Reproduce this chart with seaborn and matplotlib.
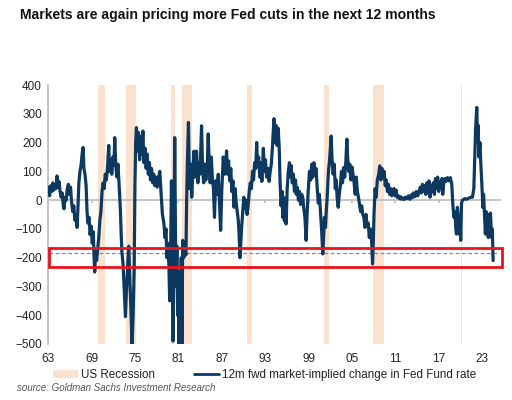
import numpy as np
import pandas as pd
import matplotlib
matplotlib.use("Agg")
import matplotlib.pyplot as plt
import seaborn as sns
from matplotlib.patches import Patch, Rectangle
from matplotlib.lines import Line2D

# 12m fwd market-implied change in Fed Funds rate (bp)
t_1963_1978 = [1963.0, 1963.1, 1963.2, 1963.35, 1963.5, 1963.65, 1963.8, 1963.95, 1964.1, 1964.23,
               1964.35, 1964.5, 1964.65, 1964.8, 1964.95, 1965.1, 1965.2, 1965.35, 1965.5, 1965.65,
               1965.8, 1965.95, 1966.1, 1966.25, 1966.4, 1966.55, 1966.7, 1966.85, 1967.0, 1967.1,
               1967.25, 1967.4, 1967.55, 1967.7, 1967.83, 1967.95, 1968.1, 1968.25, 1968.38, 1968.5,
               1968.65, 1968.8, 1968.95, 1969.1, 1969.25, 1969.35, 1969.44, 1969.55, 1969.7, 1969.85,
               1970.0, 1970.15, 1970.3, 1970.45, 1970.6, 1970.75, 1970.9, 1971.05, 1971.2, 1971.38,
               1971.5, 1971.65, 1971.8, 1971.95, 1972.1, 1972.21, 1972.35, 1972.5, 1972.65, 1972.8,
               1973.0, 1973.1, 1973.2, 1973.35, 1973.5, 1973.6, 1973.69, 1973.8, 1973.95, 1974.05,
               1974.15, 1974.3, 1974.45, 1974.6, 1974.75, 1974.9, 1975.0, 1975.1, 1975.21, 1975.35,
               1975.5, 1975.65, 1975.8, 1975.95, 1976.1, 1976.23, 1976.4, 1976.55, 1976.7, 1976.85,
               1977.0, 1977.15, 1977.3, 1977.45, 1977.6, 1977.75, 1977.9, 1978.08, 1978.2]
v_1963_1978 = [20, 45, 15, 50, 30, 60, 35, 55, 40, 84,
               45, 65, 30, 10, 25, -20, -30, 10, 0, 40,
               55, 20, 45, -10, -40, -20, -70, -55, -95, -40,
               60, 100, 120, 160, 183, 110, 90, 50, -40, -80,
               -60, -120, -90, -150, -110, -200, -250, -180, -210, -170,
               -130, -70, -40, 30, 60, 40, 90, 70, 110, 190,
               100, 140, 90, 150, 120, 217, 120, 80, 125, 60,
               -40, -120, -180, -220, -300, -360, -405, -330, -250, -200,
               -160, -280, -380, -510, -400, -235, 50, 200, 252, 170,
               235, 140, 220, 160, 240, 130, 180, 110, 160, 90,
               130, 70, 110, 60, 90, 50, 80, 45, 70]

t_1978_1995 = [1978.44, 1978.6, 1978.8, 1979.0, 1979.15, 1979.3, 1979.4, 1979.55, 1979.7, 1979.8,
               1979.9, 1980.05, 1980.15, 1980.25, 1980.35, 1980.5, 1980.6, 1980.7, 1980.8, 1980.9,
               1981.0, 1981.1, 1981.2, 1981.3, 1981.4, 1981.5, 1981.6, 1981.75, 1981.9, 1982.05,
               1982.15, 1982.25, 1982.4, 1982.5, 1982.6, 1982.7, 1982.85, 1983.0, 1983.15, 1983.3,
               1983.52, 1983.7, 1983.85, 1984.0, 1984.21, 1984.35, 1984.5, 1984.65, 1984.8, 1985.0,
               1985.13, 1985.25, 1985.4, 1985.55, 1985.7, 1985.85, 1986.0, 1986.15, 1986.3, 1986.52,
               1986.7, 1986.85, 1987.0, 1987.21, 1987.4, 1987.55, 1987.67, 1987.8, 1987.95, 1988.1,
               1988.25, 1988.4, 1988.55, 1988.7, 1988.85, 1989.0, 1989.15, 1989.29, 1989.4, 1989.52,
               1989.65, 1989.75, 1989.9, 1990.05, 1990.2, 1990.35, 1990.5, 1990.65, 1990.8, 1990.95,
               1991.1, 1991.25, 1991.4, 1991.55, 1991.7, 1991.83, 1991.95, 1992.1, 1992.25, 1992.4,
               1992.55, 1992.75, 1992.9, 1993.05, 1993.2, 1993.4, 1993.55, 1993.7, 1993.85, 1994.0,
               1994.1, 1994.23, 1994.35, 1994.5, 1994.65, 1994.8, 1994.95]
v_1978_1995 = [100, 30, -50, -80, -130, -100, -200, -150, -230, -350,
               -250, 67, -200, -490, -300, 217, -100, -300, -160, -400,
               -250, -510, -300, -500, -200, -510, -140, -200, -170, -190,
               0, 130, 270, 120, 40, 125, 10, 90, 170, 80,
               170, 60, 130, 90, 258, 110, 60, 125, 70, 120,
               230, 140, 60, 150, 80, 40, -60, 67, 20, 90,
               -20, -105, 30, 150, 90, 120, 171, 90, 136, 67,
               110, 30, 67, -25, 40, -10, -40, -70, -120, -200,
               -140, -95, -40, 10, -30, 0, -50, -20, 30, 60,
               40, 100, 70, 130, 110, 200, 120, 150, 80, 130,
               65, 180, 100, 140, 80, 110, 65, 100, 125, 180,
               230, 283, 200, 260, 190, 250, 180]

t_1995_2010 = [1995.06, 1995.2, 1995.35, 1995.43, 1995.55, 1995.66, 1995.78, 1995.9, 1996.05, 1996.2,
               1996.36, 1996.5, 1996.6, 1996.75, 1996.9, 1997.05, 1997.2, 1997.3, 1997.45, 1997.6,
               1997.75, 1997.9, 1998.05, 1998.2, 1998.35, 1998.5, 1998.67, 1998.8, 1998.95, 1999.13,
               1999.3, 1999.45, 1999.6, 1999.75, 1999.9, 2000.05, 2000.2, 2000.35, 2000.5, 2000.65,
               2000.8, 2000.9, 2000.97, 2001.1, 2001.2, 2001.35, 2001.45, 2001.6, 2001.75, 2001.9,
               2002.13, 2002.25, 2002.4, 2002.55, 2002.7, 2002.82, 2002.95, 2003.1, 2003.25, 2003.4,
               2003.55, 2003.7, 2003.85, 2004.0, 2004.15, 2004.3, 2004.4, 2004.55, 2004.7, 2004.85,
               2005.0, 2005.15, 2005.3, 2005.45, 2005.6, 2005.75, 2005.9, 2006.05, 2006.2, 2006.35,
               2006.5, 2006.65, 2006.8, 2006.95, 2007.1, 2007.25, 2007.4, 2007.55, 2007.7, 2007.85,
               2007.95, 2008.05, 2008.2, 2008.35, 2008.5, 2008.7, 2008.85, 2009.0, 2009.15, 2009.3,
               2009.45, 2009.6, 2009.75, 2009.9, 2010.05, 2010.2, 2010.35, 2010.5, 2010.65]
v_1995_2010 = [67, -20, 30, -60, 10, -72, -20, -83, 40, 100,
               130, 80, 120, 60, 90, 30, 70, 20, 44, 0,
               30, -15, 20, 10, -30, -60, -140, -50, 30, 100,
               70, 125, 80, 130, 90, 110, 40, -10, 20, -40,
               -100, -150, -187, -120, -60, -95, -40, 20, 100, 136,
               223, 140, 90, 125, 40, 70, 10, -25, 20, 50,
               100, 60, 113, 80, 130, 212, 150, 100, 125, 70,
               115, 90, 60, 20, 80, 30, 10, -15, -40, -20,
               -50, -60, -95, -50, -90, -80, -130, -100, -130, -222,
               -150, -50, 40, 10, 67, 90, 119, 70, 110, 80,
               100, 50, 70, 30, 55, 20, 40, 15, 35]

t_2010_2024 = [2010.8, 2010.95, 2011.1, 2011.25, 2011.4, 2011.55, 2011.7, 2011.85, 2012.0, 2012.2,
               2012.4, 2012.6, 2012.8, 2013.0, 2013.2, 2013.35, 2013.5, 2013.7, 2013.9, 2014.1,
               2014.27, 2014.45, 2014.6, 2014.75, 2014.9, 2015.05, 2015.2, 2015.35, 2015.5, 2015.65,
               2015.8, 2015.95, 2016.1, 2016.25, 2016.4, 2016.55, 2016.7, 2016.85, 2017.0, 2017.15,
               2017.3, 2017.45, 2017.55, 2017.7, 2017.85, 2018.0, 2018.2, 2018.4, 2018.6, 2018.8,
               2018.95, 2019.1, 2019.25, 2019.35, 2019.45, 2019.58, 2019.7, 2019.81, 2019.95, 2020.04,
               2020.15, 2020.3, 2020.6, 2020.9, 2021.2, 2021.5, 2021.66, 2021.85, 2021.95, 2022.1,
               2022.26, 2022.35, 2022.45, 2022.55, 2022.7, 2022.82, 2022.95, 2023.1, 2023.2, 2023.3,
               2023.45, 2023.55, 2023.7, 2023.85, 2023.95, 2024.05, 2024.15, 2024.3, 2024.4, 2024.52]
v_2010_2024 = [40, 15, 35, 10, 15, 5, 12, 3, 8, 2,
               10, 5, 15, 3, 18, 8, 25, 12, 30, 15,
               28, 45, 25, 55, 30, 50, 20, 60, 25, 67,
               10, 50, 30, 60, 20, 75, 40, 80, 30, 65,
               45, 75, 20, 60, 75, 65, 78, 67, 78, 55,
               -15, -60, -40, -95, -118, -25, -60, -118, -70, -140,
               -10, 0, 5, 3, 8, 10, 10, 40, 125, 250,
               322, 200, 260, 150, 200, 125, 60, -25, 20, -37,
               -118, -40, -80, -130, -50, -110, -45, -130, -100, -210]

# US recessions (NBER), decimal years
rec_start = [1969.92, 1973.83, 1980.0, 1981.5, 1990.5, 2001.17, 2007.92, 2020.08]
rec_end = [1970.83, 1975.17, 1980.5, 1982.83, 1991.17, 2001.83, 2009.42, 2020.25]

year_ticks = [1963, 1969, 1975, 1981, 1987, 1993, 1999, 2005, 2011, 2017, 2023]
year_labels = ["63", "69", "75", "81", "87", "93", "99", "05", "11", "17", "23"]

df = pd.DataFrame({
    "year": t_1963_1978 + t_1978_1995 + t_1995_2010 + t_2010_2024,
    "bp": v_1963_1978 + v_1978_1995 + v_1995_2010 + v_2010_2024,
})

sns.set_theme(style="white")
plt.rcParams["font.family"] = ["Liberation Sans", "DejaVu Sans"]

NAVY = "#0d3860"
PEACH = "#fbe2cf"
GREY = "#bfbfbf"

fig = plt.figure(figsize=(5.12, 4.0), dpi=100)
ax = fig.add_axes([0.094, 0.14, 0.883, 0.6475])

for s, e in zip(rec_start, rec_end):
    ax.axvspan(s, e, color=PEACH, lw=0, zorder=0)

sns.lineplot(data=df, x="year", y="bp", ax=ax, color=NAVY, lw=2.3,
             estimator=None, sort=False, zorder=3)

ax.set_xlim(1963, 2025.5)
ax.set_ylim(-500, 400)
ax.set_yticks(np.arange(-500, 401, 100))
ax.set_xticks(year_ticks)
ax.set_xticklabels(year_labels)
ax.set_xlabel("")
ax.set_ylabel("")

for side in ["top", "right"]:
    ax.spines[side].set_visible(False)
ax.spines["left"].set_color(GREY)
ax.spines["bottom"].set_color(GREY)
ax.spines["bottom"].set_position(("data", 0))
ax.spines["bottom"].set_zorder(1)
ax.tick_params(axis="y", length=2.5, color=GREY, labelsize=8.5, labelcolor="#222222", pad=2)
ax.tick_params(axis="x", length=2, color=GREY, labelsize=8.5, labelcolor="#222222",
               direction="out", bottom=True, pad=108)

# threshold line and highlight box
ax.plot([1963.1, 2025.1], [-185, -185], ls=(0, (3, 2)), color="#7d8da0", lw=0.9, zorder=2)
ax.add_patch(Rectangle((1963.1, -233), 2025.8 - 1963.1, 66, fill=False,
                       edgecolor="#e8141b", lw=2.0, clip_on=False, zorder=4))

fig.text(0.039, 0.962, "Markets are again pricing more Fed cuts in the next 12 months",
         fontsize=10.1, fontweight="bold", color="#111111", va="center", ha="left")

handles = [Patch(facecolor=PEACH, edgecolor="none"),
           Line2D([0], [0], color=NAVY, lw=2)]
fig.legend(handles, ["US Recession", "12m fwd market-implied change in Fed Fund rate"],
           loc="upper left", bbox_to_anchor=(0.103, 0.077), ncol=2, frameon=False,
           fontsize=8.4, handlelength=2.2, handleheight=0.75, handletextpad=0.25,
           columnspacing=3.3, borderpad=0, borderaxespad=0, labelcolor="#222222")

fig.text(0.033, 0.030, "source: Goldman Sachs Investment Research", fontsize=7,
         style="italic", color="#555555", va="center", ha="left")

fig.savefig("out.png", dpi=100)
